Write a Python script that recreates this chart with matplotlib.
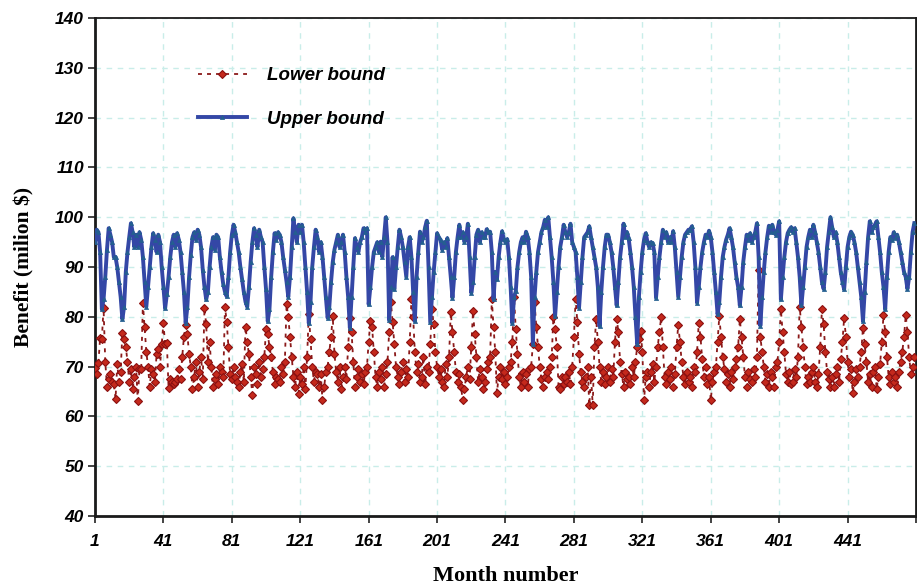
import numpy as np
import matplotlib
matplotlib.use("Agg")
import matplotlib.pyplot as plt

# monthly benefit bounds (million $), one row of 12 values per year
upper_bound = [
    95.0, 97.5, 97.0, 93.0, 81.5, 83.5, 88.0, 93.5, 97.8, 96.5, 95.0, 92.0,
    92.0, 90.0, 87.0, 84.0, 79.5, 82.0, 89.0, 93.0, 96.0, 98.8, 97.0, 94.0,
    96.5, 94.0, 97.0, 95.5, 92.0, 87.0, 82.0, 86.0, 90.0, 94.0, 96.8, 95.5,
    93.0, 96.5, 95.0, 90.0, 86.0, 81.7, 84.5, 88.0, 92.0, 95.0, 96.5, 94.0,
    96.8, 95.5, 93.0, 89.0, 85.0, 78.8, 82.0, 88.0, 92.5, 96.0, 97.0, 95.5,
    97.5, 96.5, 94.0, 89.5, 86.0, 83.5, 85.0, 90.0, 94.0, 96.0, 93.5, 96.5,
    96.0, 92.0, 89.0, 86.5, 85.0, 84.1, 88.0, 93.0, 96.5, 98.5, 97.0, 95.0,
    93.0, 90.0, 87.5, 85.0, 83.0, 82.0, 86.0, 91.0, 95.0, 97.8, 96.5, 94.0,
    97.5, 96.0, 95.0, 90.0, 85.5, 79.1, 81.5, 88.0, 93.0, 96.8, 95.5, 97.0,
    96.5, 95.0, 92.0, 89.5, 87.0, 84.0, 88.0, 94.0, 99.8, 97.0, 95.0, 98.5,
    97.0, 98.5, 95.0, 90.0, 85.0, 78.7, 83.0, 90.0, 94.0, 97.5, 96.0, 93.0,
    95.0, 92.0, 88.0, 84.0, 79.8, 82.0, 87.0, 91.0, 93.5, 95.0, 96.5, 94.0,
    95.0, 96.5, 93.0, 88.0, 84.0, 77.8, 84.0, 90.0, 95.8, 94.0, 93.0, 95.0,
    96.0, 97.8, 97.0, 97.8, 82.5, 86.0, 90.0, 93.0, 94.0, 95.0, 93.0, 95.1,
    92.0, 96.0, 100.0, 95.0, 79.3, 86.0, 92.0, 85.5, 90.0, 94.0, 97.5, 96.0,
    94.0, 91.0, 88.0, 94.0, 96.0, 92.0, 85.0, 79.1, 88.0, 93.0, 97.1, 95.0,
    96.0, 98.0, 99.3, 90.0, 78.9, 84.0, 89.0, 93.0, 96.8, 96.0, 95.5, 93.5,
    95.0, 94.0, 95.8, 92.0, 88.0, 83.8, 88.0, 93.0, 96.0, 98.5, 96.0, 97.0,
    95.0, 96.0, 98.7, 92.0, 84.8, 87.0, 92.0, 96.5, 97.5, 95.0, 97.0, 96.0,
    96.0, 97.6, 97.0, 97.1, 93.0, 83.5, 89.0, 87.5, 92.0, 95.0, 97.2, 95.6,
    95.0, 95.6, 92.0, 86.0, 78.7, 84.0, 85.1, 90.0, 93.0, 95.0, 96.0, 95.0,
    97.1, 96.0, 93.0, 88.0, 74.5, 84.0, 89.0, 93.0, 95.0, 97.0, 98.0, 99.5,
    98.0, 100.0, 96.0, 92.0, 87.0, 80.1, 85.0, 90.0, 94.0, 96.0, 98.5, 97.0,
    96.0, 97.0, 98.7, 95.0, 94.0, 93.0, 88.0, 81.8, 87.0, 92.0, 96.0, 96.5,
    97.0, 98.2, 96.0, 94.0, 92.0, 90.0, 86.0, 78.1, 85.0, 90.0, 94.0, 96.5,
    96.5, 95.0, 93.0, 90.0, 86.0, 82.3, 87.0, 92.0, 95.0, 98.7, 96.0, 97.0,
    95.8, 93.0, 90.0, 86.0, 80.0, 74.5, 84.0, 89.0, 93.0, 95.5, 96.8, 95.0,
    94.0, 95.0, 94.8, 93.0, 83.8, 88.0, 92.0, 95.0, 97.5, 96.0, 97.0, 95.0,
    96.0, 95.0, 97.2, 94.0, 89.0, 84.0, 88.0, 92.0, 95.0, 96.5, 97.0, 97.5,
    97.5, 98.2, 95.0, 90.0, 82.8, 86.0, 90.0, 93.0, 95.0, 96.5, 96.0, 97.3,
    96.0, 93.0, 89.0, 85.0, 80.5, 83.0, 88.0, 92.0, 94.0, 95.5, 96.5, 97.8,
    96.0, 94.0, 91.0, 88.0, 86.0, 82.3, 86.0, 91.0, 94.0, 96.5, 95.5, 96.8,
    95.0, 96.0, 97.0, 98.8, 92.0, 78.2, 84.0, 89.0, 93.0, 96.0, 98.3, 97.0,
    98.5, 97.0, 96.5, 97.5, 99.2, 83.5, 88.0, 92.0, 95.0, 96.8, 97.5, 98.0,
    97.0, 97.8, 95.0, 92.0, 88.0, 82.3, 86.0, 90.0, 94.0, 96.0, 97.5, 96.0,
    98.5, 97.0, 95.0, 93.0, 90.0, 87.0, 85.6, 89.0, 94.0, 97.0, 100.0, 98.0,
    96.0, 97.0, 95.0, 92.0, 89.0, 87.0, 85.5, 90.0, 94.0, 96.0, 97.1, 96.5,
    95.0, 93.0, 90.0, 87.0, 84.0, 79.1, 85.0, 91.0, 96.0, 99.2, 97.0, 98.0,
    98.5, 99.2, 96.0, 93.0, 89.0, 86.0, 81.5, 88.0, 93.0, 96.0, 95.5, 97.0,
    95.8, 96.5, 95.0, 93.0, 91.0, 89.0, 88.0, 85.6, 88.0, 93.0, 97.0, 98.8,
]

lower_bound = [
    69.8, 68.5, 70.8, 75.8, 75.5, 81.8, 71.0, 66.0, 67.5, 68.5, 67.0, 66.5,
    63.5, 70.5, 67.0, 69.0, 76.8, 75.5, 74.0, 71.0, 67.0, 69.5, 65.5, 68.0,
    70.0, 63.1, 69.5, 69.5, 82.7, 78.0, 73.0, 70.0, 66.0, 69.5, 68.5, 67.0,
    72.5, 73.5, 70.0, 74.5, 78.7, 74.5, 74.8, 65.8, 67.5, 67.0, 66.5, 67.0,
    67.5, 69.5, 67.5, 72.0, 76.0, 78.3, 76.5, 72.5, 70.0, 65.5, 68.0, 71.0,
    66.0, 69.0, 72.0, 67.5, 81.8, 78.5, 71.0, 75.0, 70.0, 66.0, 67.5, 68.5,
    66.5, 70.0, 69.0, 68.0, 82.0, 79.0, 74.0, 68.5, 67.5, 70.0, 68.0, 67.0,
    66.0, 69.0, 70.5, 67.0, 78.0, 75.0, 72.5, 68.0, 64.3, 70.0, 68.5, 66.5,
    71.0, 68.0, 69.5, 72.0, 77.5, 76.5, 74.0, 72.0, 69.0, 66.5, 68.0, 67.5,
    67.0, 70.0, 68.5, 71.0, 82.5, 80.0, 76.0, 72.0, 68.0, 66.0, 69.0, 64.5,
    68.0, 66.5, 70.0, 65.5, 72.0, 80.5, 75.5, 70.0, 67.0, 69.0, 68.5, 66.0,
    68.5, 63.2, 66.0, 69.0, 70.0, 73.0, 76.0, 80.1, 72.5, 69.0, 67.0, 70.0,
    65.5, 68.0, 70.0, 67.5, 74.0, 79.8, 77.0, 71.0, 66.0, 68.0, 69.5, 67.0,
    68.5, 66.5, 69.0, 70.0, 75.0, 79.1, 78.0, 73.0, 68.0, 66.0, 69.0, 67.5,
    70.0, 66.0, 68.5, 71.0, 77.0, 83.0, 79.0, 74.5, 70.0, 68.0, 66.5, 69.0,
    71.0, 67.0, 69.5, 68.0, 75.0, 83.6, 80.0, 73.0, 69.0, 70.5, 67.0, 68.0,
    72.0, 66.5, 70.0, 69.0, 74.5, 81.5, 78.5, 73.0, 70.0, 68.0, 69.5, 67.0,
    66.0, 70.5, 68.0, 72.0, 80.9, 77.0, 73.0, 69.0, 67.0, 68.5, 66.0, 63.2,
    65.5, 68.0, 70.0, 67.5, 74.0, 81.1, 76.5, 72.0, 67.0, 69.5, 68.0, 65.6,
    67.0, 69.5, 71.0, 72.0, 83.5, 78.0, 73.0, 64.8, 68.0, 70.0, 67.5, 69.0,
    66.5, 68.0, 70.0, 71.0, 75.0, 83.9, 77.5, 72.5, 68.0, 66.0, 69.0, 67.0,
    68.5, 66.0, 69.5, 70.0, 74.5, 82.9, 78.0, 74.0, 70.0, 67.5, 66.0, 68.0,
    69.0, 67.5, 70.0, 72.0, 79.9, 77.5, 74.0, 66.0, 65.5, 68.0, 66.5, 68.0,
    67.0, 69.0, 66.5, 70.0, 76.0, 83.5, 79.0, 72.5, 69.0, 67.0, 66.0, 68.0,
    70.0, 62.2, 68.0, 62.3, 74.0, 79.6, 75.0, 70.0, 67.0, 69.0, 66.5, 68.0,
    70.0, 67.0, 69.5, 68.0, 75.0, 79.6, 77.0, 71.0, 68.5, 66.0, 69.0, 67.5,
    68.0, 66.5, 70.0, 68.0, 71.0, 74.0, 75.5, 77.1, 73.0, 63.2, 68.0, 69.0,
    66.0, 69.0, 70.5, 67.0, 70.0, 74.0, 77.0, 79.9, 74.0, 68.0, 66.5, 69.0,
    67.5, 70.0, 66.0, 68.5, 74.0, 78.4, 75.0, 71.0, 68.0, 66.5, 69.0, 67.0,
    68.0, 66.0, 70.0, 69.0, 73.0, 78.8, 76.0, 71.5, 68.0, 70.0, 66.5, 68.0,
    63.2, 67.0, 69.0, 70.0, 75.0, 80.1, 76.0, 72.0, 69.5, 67.0, 68.5, 66.0,
    69.0, 67.5, 70.0, 71.5, 74.0, 79.5, 76.0, 72.0, 68.0, 66.0, 69.0, 67.5,
    67.0, 69.5, 68.0, 72.0, 89.4, 76.0, 73.0, 70.0, 67.0, 68.5, 66.0, 69.0,
    68.0, 66.0, 70.0, 71.0, 75.0, 81.5, 77.0, 73.0, 68.5, 67.0, 69.0, 66.5,
    67.0, 69.5, 68.0, 72.0, 82.0, 78.0, 74.0, 70.0, 66.5, 68.0, 67.0, 69.0,
    70.0, 67.0, 66.0, 68.5, 74.0, 81.5, 78.5, 73.0, 69.0, 67.5, 66.0, 68.0,
    66.0, 68.5, 70.0, 67.0, 71.5, 75.0, 79.8, 76.0, 71.0, 68.0, 69.5, 64.8,
    67.0, 69.5, 68.0, 70.0, 73.0, 77.8, 74.5, 71.0, 67.0, 68.5, 66.0, 69.0,
    70.0, 65.5, 68.0, 70.5, 75.0, 80.3, 77.0, 72.0, 68.0, 66.5, 69.0, 67.0,
    68.0, 66.0, 69.0, 71.0, 73.0, 76.0, 80.3, 77.0, 72.0, 68.5, 70.0, 72.0,
]

months = np.arange(1, len(upper_bound) + 1)
x_ticks = list(range(1, 482, 40))
x_tick_labels = [str(t) for t in x_ticks[:-1]] + [""]
y_ticks = list(range(40, 141, 10))

tick_font = dict(family="Liberation Sans", weight="bold", style="italic", size=12.5)
label_font = dict(family="Liberation Serif", weight="bold", size=16)

fig = plt.figure(figsize=(9.17, 5.85), dpi=100)
ax = fig.add_axes([0.1036, 0.118, 0.8953, 0.851])

ax.plot(months, lower_bound, color="#8b1a1a", linestyle=(0, (2.2, 2.8)), linewidth=1.3,
        marker="D", markersize=4.5, markerfacecolor="#c4291c", markeredgecolor="#8b1010",
        markeredgewidth=0.8, label="Lower bound", zorder=3)
ax.plot(months, upper_bound, color="#3447a6", linewidth=2.8,
        marker="^", markersize=3, markerfacecolor="#245f90", markeredgecolor="#245f90",
        markeredgewidth=0.5, label="Upper bound", zorder=4)

ax.set_xlim(1, 481)
ax.set_ylim(40, 140)
ax.set_xticks(x_ticks)
ax.set_xticklabels(x_tick_labels, fontdict=tick_font)
ax.set_yticks(y_ticks)
ax.set_yticklabels([str(t) for t in y_ticks], fontdict=tick_font)
ax.tick_params(axis="both", direction="out", length=5, width=1.2, color="#222222")
ax.tick_params(axis="x", pad=8)
ax.tick_params(axis="y", pad=3)

ax.grid(True, color="#c9ede9", linestyle=(0, (4, 4)), linewidth=1.0)
ax.set_axisbelow(True)

for side in ["left", "bottom", "right"]:
    ax.spines[side].set_linewidth(2.0)
ax.spines["top"].set_linewidth(1.3)
for side in ax.spines:
    ax.spines[side].set_color("#1a1a1a")

ax.set_xlabel("Month number", fontdict=label_font, labelpad=12)
ax.set_ylabel("Benefit (milion $)", fontdict=dict(label_font, size=15.5), labelpad=15)

leg = ax.legend(loc="upper left", bbox_to_anchor=(0.105, 0.935), frameon=False,
                handlelength=2.6, handletextpad=1.1, labelspacing=1.4,
                prop=dict(family="Liberation Sans", weight="bold", style="italic", size=13.5))

fig.savefig("out.png", dpi=100)
